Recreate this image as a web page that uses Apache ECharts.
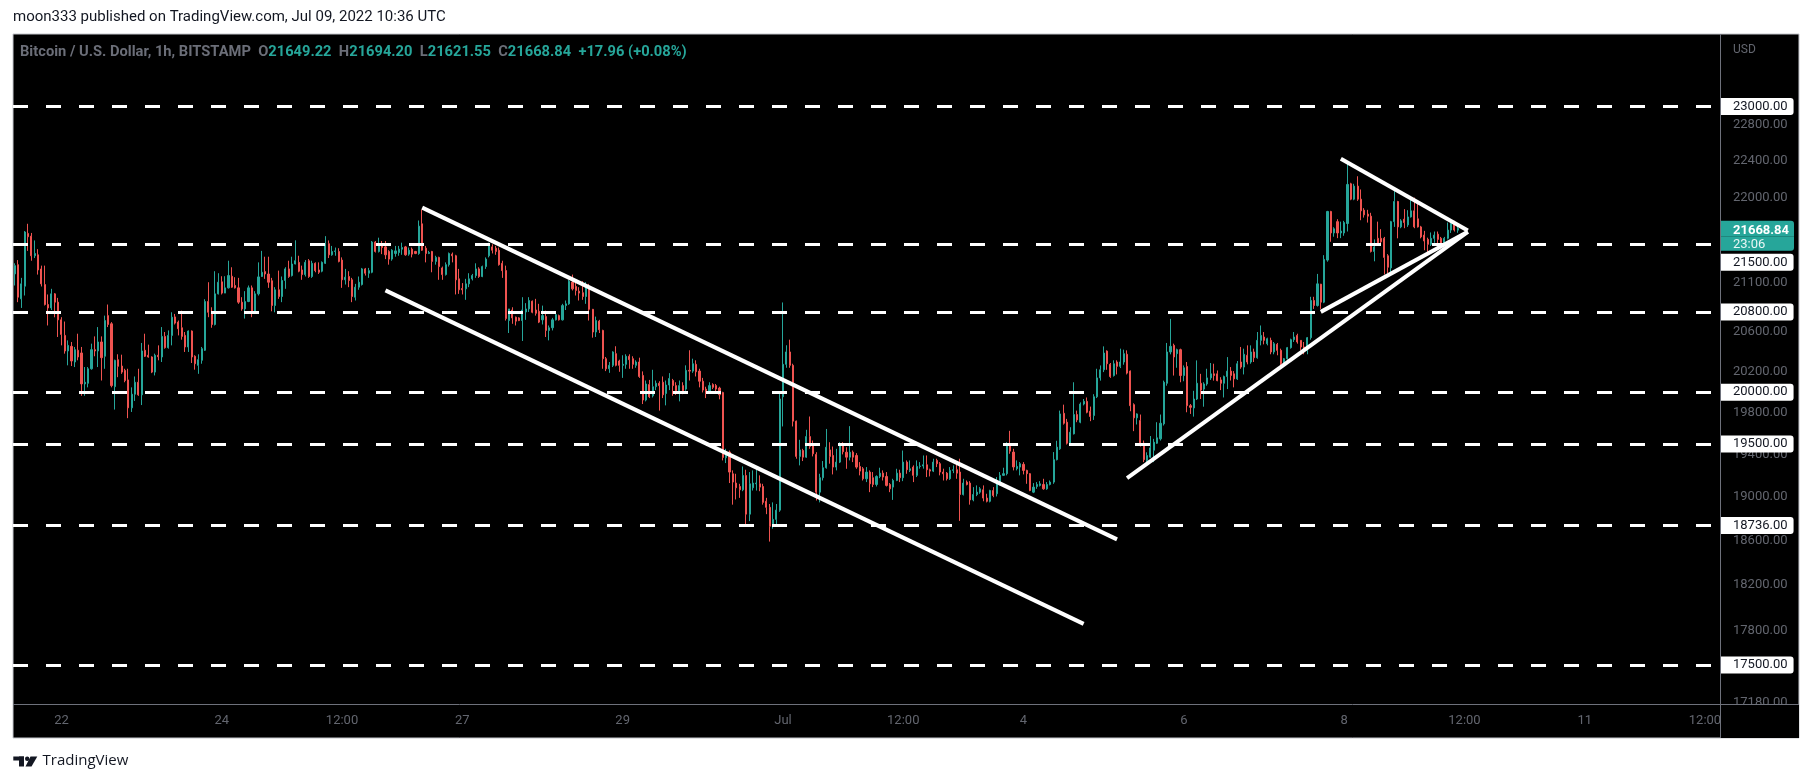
<!DOCTYPE html>
<html>
<head>
<meta charset="utf-8">
<script src="https://cdn.jsdelivr.net/npm/echarts@6/dist/echarts.min.js"></script>
<style>
html,body{margin:0;padding:0;background:#fff;}
#chart{width:1813px;height:783px;}
</style>
</head>
<body>
<div id="chart"></div>
<script>
// ---------- data (BTC/USD, 1h candles, Jun 21 10:00 -> Jul 9 10:00 UTC) ----------
const firstCandleUTC = [2022, 5, 21, 10]; // y, m(0-based), d, h
const slotCount = 511;                     // hourly slots shown on the time axis

const opens = [
21191,21287,20934,21064,21615,21586,21380,21390,21242,21081,
20876,20841,20985,20900,20720,20563,20407,20453,20297,20414,
20387,20081,20087,20230,20420,20407,20497,20354,20763,20680,
20054,20320,20257,20214,20120,19847,19980,20097,19974,20414,
20364,20347,20197,20364,20347,20553,20440,20563,20750,20697,
20640,20563,20447,20607,20354,20264,20314,20414,20907,20804,
20673,20985,21109,20993,21047,21167,21071,21047,20900,20831,
20907,21047,20797,20985,21164,21215,21190,21120,20866,21027,
20958,21123,21243,21174,21294,21311,21232,21184,21328,21164,
21301,21232,21219,21301,21507,21390,21425,21425,21335,21130,
21164,21130,20951,21054,21081,21243,21198,21208,21524,21425,
21500,21473,21425,21345,21404,21414,21449,21473,21397,21449,
21425,21404,21717,21459,21404,21425,21321,21363,21253,21184,
21287,21397,21380,21140,21040,21037,21088,21140,21174,21243,
21164,21267,21380,21473,21459,21438,21301,21226,20713,20820,
20747,20740,20713,20800,20831,20910,20820,20807,20720,20753,
20613,20640,20720,20763,20720,20865,20883,21106,21061,21013,
20997,20958,21061,20827,20597,20707,20613,20330,20230,20264,
20380,20307,20264,20274,20354,20330,20264,20297,20164,19923,
20074,19964,20053,20087,20097,19987,20070,20114,20064,20004,
20064,20030,20214,20207,20274,20207,20107,20030,19997,20074,
20064,20040,19997,19368,19422,19217,19130,19098,19067,19201,
18841,19086,19123,19123,19098,18960,18904,18730,18793,18878,
19955,20274,20397,20264,19718,19381,19437,19374,19570,19494,
19400,19045,19180,19274,19443,19390,19280,19327,19484,19421,
19374,19421,19390,19286,19264,19170,19233,19180,19117,19192,
19223,19192,19117,19092,19154,19223,19180,19327,19249,19280,
19202,19286,19290,19302,19255,19242,19343,19312,19233,19223,
19170,19249,19255,19233,19023,19139,19130,18973,19023,19045,
19067,18990,18960,19060,19030,19139,19202,19218,19494,19422,
19265,19280,19306,19249,19218,19045,19098,19108,19117,19076,
19117,19139,19350,19453,19794,19708,19506,19596,19782,19708,
19884,19910,19814,19772,19955,20140,20220,20406,20274,20163,
20297,20254,20297,20374,20207,19878,19750,19724,19506,19343,
19374,19440,19506,19548,19692,20087,20397,20463,20380,20420,
20163,20253,19868,19846,19933,20087,20030,20080,20140,20180,
20180,20120,20087,20153,20207,20180,20130,20297,20247,20364,
20297,20397,20340,20513,20547,20480,20513,20397,20473,20413,
20280,20330,20440,20520,20563,20513,20447,20413,20540,20917,
20866,21085,20900,21335,21848,21620,21740,21620,21620,21720,
22146,21980,22121,21980,21862,21820,21798,21425,21563,21563,
21563,21380,21253,21740,21955,21684,21766,21705,21790,21855,
21770,21684,21597,21552,21500,21563,21607,21563,21500,21563,
21650,21730,21649.22
];

const closes = [
21277,20951,21088,21630,21580,21380,21404,21232,21088,20876,
20841,20985,20900,20720,20573,20407,20463,20307,20420,20347,
20081,20097,20230,20420,20407,20497,20340,20713,20673,20064,
20314,20254,20197,20114,19847,19980,20097,19974,20407,20354,
20347,20197,20364,20350,20553,20440,20563,20747,20687,20630,
20553,20447,20607,20347,20280,20320,20430,20907,20797,20673,
20985,21105,20993,21047,21174,21054,21047,20900,20831,20907,
21047,20797,20985,21160,21208,21190,21105,20866,21027,20958,
21123,21243,21164,21294,21328,21219,21184,21311,21164,21301,
21225,21208,21311,21507,21390,21425,21431,21321,21130,21157,
21123,20958,21054,21105,21243,21198,21225,21524,21425,21483,
21466,21390,21345,21438,21431,21449,21466,21390,21438,21397,
21404,21692,21438,21404,21414,21321,21363,21267,21184,21287,
21404,21380,21130,21027,21027,21088,21140,21174,21243,21164,
21267,21345,21500,21438,21425,21287,21225,20733,20831,20740,
20707,20713,20820,20831,20917,20797,20787,20697,20763,20613,
20640,20720,20773,20720,20865,20883,21116,21037,21020,20993,
20958,21061,20827,20597,20713,20620,20330,20230,20264,20397,
20264,20264,20274,20354,20320,20274,20297,20154,19923,20080,
19955,20053,20087,20064,19974,20070,20134,20064,19997,20064,
20014,20214,20207,20280,20200,20107,20020,19987,20064,20047,
20030,19974,19371,19422,19233,19139,19086,19067,19201,18841,
19123,19130,19130,19092,18950,18904,18730,18793,18878,19933,
20274,20397,20264,19718,19381,19443,19374,19570,19475,19406,
19045,19180,19274,19468,19381,19280,19327,19484,19425,19374,
19421,19374,19280,19242,19170,19233,19123,19117,19192,19223,
19186,19108,19076,19154,19223,19180,19327,19255,19264,19202,
19286,19290,19302,19255,19242,19327,19312,19233,19217,19170,
19249,19255,19223,19023,19130,19117,18973,19023,19045,19076,
18990,18960,19060,19014,19139,19202,19218,19500,19431,19281,
19286,19312,19249,19218,19060,19092,19117,19123,19076,19117,
19139,19350,19469,19788,19698,19506,19612,19782,19730,19884,
19910,19804,19763,19955,20140,20220,20386,20280,20153,20280,
20254,20297,20380,20187,19868,19750,19788,19500,19350,19390,
19462,19516,19558,19698,20097,20397,20453,20347,20420,20163,
20240,19868,19852,19933,20087,20020,20080,20140,20180,20163,
20113,20087,20153,20207,20164,20130,20280,20247,20374,20297,
20397,20340,20513,20563,20513,20530,20397,20480,20413,20280,
20330,20440,20520,20547,20497,20447,20413,20540,20917,20866,
21088,20900,21342,21848,21620,21664,21620,21640,21730,22139,
21980,22121,21980,21855,21812,21798,21425,21473,21507,21527,
21363,21260,21740,21955,21684,21748,21730,21790,21855,21684,
21684,21578,21535,21500,21563,21597,21552,21507,21563,21650,
21720,21650.88,21668.84
];

const lows = [
21071,20900,20841,20968,21431,21328,21356,21184,21061,20866,
20663,20820,20746,20547,20463,20380,20264,20257,20247,20314,
19964,19964,20047,20221,20354,20247,20114,20230,20647,20047,
19830,20147,20180,20097,19747,19807,19914,19964,19874,20347,
20340,20187,20164,20314,20297,20430,20430,20463,20673,20563,
20520,20397,20397,20287,20221,20180,20280,20407,20747,20640,
20663,20979,20979,20993,21040,21047,21040,20883,20813,20733,
20900,20747,20780,20968,21160,21140,21047,20807,20797,20934,
20900,21037,21150,21164,21290,21208,21130,21164,21150,21150,
21208,21191,21208,21294,21356,21380,21380,21311,21047,21081,
21054,20900,20917,21027,21071,21174,21150,21198,21414,21414,
21397,21345,21287,21328,21370,21380,21390,21380,21380,21363,
21397,21390,21431,21311,21397,21208,21287,21130,21130,21174,
21267,21311,20979,20985,20979,20924,21054,21123,21150,21150,
21157,21243,21363,21404,21390,21277,21150,20713,20587,20680,
20663,20707,20507,20720,20800,20787,20763,20687,20673,20547,
20513,20613,20713,20713,20713,20820,20873,21020,20968,20917,
20924,20883,20713,20540,20547,20587,20230,20207,20190,20247,
20254,20200,20140,20230,20230,20230,20240,20140,19884,19910,
19942,19948,20020,19820,19942,19871,20020,19964,19974,19910,
19980,20014,20114,20190,20154,20047,19997,19942,19987,20030,
19987,19930,19343,19318,19130,18929,18977,18992,19054,18746,
18777,19060,19060,19054,18929,18841,18590,18708,18730,18863,
19667,20240,20240,19667,19359,19296,19337,19368,19453,19381,
18967,18950,19154,19265,19312,19211,19249,19318,19400,19264,
19343,19327,19264,19202,19154,19139,19045,19092,19098,19176,
19154,19098,19045,18973,19148,19139,19148,19217,19233,19139,
19186,19265,19265,19186,19192,19233,19280,19202,19154,19154,
19160,19223,19170,18779,19014,19108,18929,18960,19008,19030,
18960,18950,18950,18998,19005,19108,19196,19202,19406,19249,
19249,19202,19211,19123,19054,19036,19076,19098,19067,19067,
19108,19123,19343,19443,19685,19494,19484,19590,19708,19698,
19871,19794,19718,19730,19942,20113,20197,20220,20140,20153,
20174,20237,20270,20174,19814,19622,19686,19475,19327,19300,
19368,19327,19500,19532,19676,20063,20373,20163,20240,20097,
20107,19804,19788,19762,19923,19933,19858,20063,20120,20113,
20107,20020,19948,20030,20114,20047,20120,20230,20174,20274,
20280,20297,20330,20463,20473,20463,20374,20374,20364,20264,
20270,20320,20430,20497,20480,20413,20374,20374,20520,20831,
20855,20831,20890,21318,21527,21580,21565,21565,21590,21635,
21969,21969,21962,21755,21783,21730,21414,21322,21493,21500,
21185,21198,21208,21684,21563,21670,21670,21684,21783,21670,
21677,21563,21438,21414,21483,21517,21493,21493,21483,21552,
21620,21635,21621.55
];

const highs = [
21301,21335,21150,21640,21717,21620,21541,21449,21277,21277,
20979,21037,20993,20944,20747,20703,20513,20497,20447,20580,
20447,20247,20247,20480,20553,20647,20553,20763,20876,20697,
20320,20374,20370,20230,20230,20047,20154,20230,20487,20580,
20470,20354,20380,20463,20647,20597,20613,20797,20780,20713,
20813,20597,20613,20613,20364,20374,20447,20930,21105,20848,
21219,21198,21167,21167,21328,21260,21157,21150,20951,21013,
21071,21071,21013,21311,21431,21370,21370,21150,21054,21225,
21164,21260,21328,21370,21542,21380,21277,21335,21345,21328,
21311,21311,21321,21586,21541,21483,21466,21459,21363,21243,
21219,21150,21088,21164,21253,21253,21253,21535,21535,21570,
21535,21535,21438,21449,21483,21483,21517,21483,21466,21466,
21431,21752,21868,21483,21431,21431,21380,21370,21267,21311,
21414,21414,21390,21243,21096,21140,21198,21191,21301,21260,
21277,21363,21517,21500,21483,21466,21328,21277,20831,20848,
20753,20747,20951,20890,20951,20917,20934,20883,20865,20813,
20663,20740,20787,20773,20883,20917,21130,21184,21106,21054,
21116,21106,21088,20831,20753,20720,20620,20347,20297,20404,
20454,20320,20364,20374,20374,20354,20314,20340,20204,20114,
20120,20220,20114,20107,20154,20114,20187,20130,20097,20114,
20097,20264,20414,20330,20314,20230,20140,20053,20097,20087,
20080,20053,20004,19453,19437,19249,19217,19123,19286,19255,
19233,19249,19264,19202,19123,18992,18935,18950,18935,19997,
20897,20464,20520,20280,19724,19539,19453,19635,19763,19532,
19421,19217,19337,19643,19516,19475,19453,19516,19516,19468,
19670,19437,19412,19327,19280,19280,19249,19233,19202,19274,
19249,19233,19130,19170,19264,19255,19437,19343,19343,19296,
19343,19327,19390,19390,19265,19359,19359,19327,19265,19233,
19280,19296,19312,19359,19170,19154,19148,19092,19108,19092,
19108,19030,19067,19092,19186,19233,19274,19516,19625,19453,
19343,19327,19327,19255,19223,19130,19139,19148,19170,19139,
19154,19422,19530,19820,19878,19740,19660,20097,19820,19900,
19933,19948,19859,19980,20230,20263,20453,20413,20287,20314,
20314,20430,20420,20413,20213,19891,19794,19782,19532,19420,
19575,19548,19708,19782,20113,20487,20730,20480,20430,20430,
20263,20297,19884,20013,20313,20180,20097,20230,20287,20280,
20213,20147,20163,20346,20247,20207,20307,20447,20430,20463,
20463,20430,20597,20663,20597,20540,20540,20497,20487,20430,
20337,20447,20530,20597,20580,20513,20497,20547,20955,20955,
21191,21088,21386,21855,21855,21680,21766,21740,21748,22395,
22157,22146,22228,22085,21884,21866,21834,21552,21740,21660,
21578,21397,21748,22110,21962,21766,21873,21862,22015,21997,
21940,21695,21642,21570,21625,21635,21635,21578,21578,21730,
21730,21748,21694.20
];

// horizontal support / resistance levels (dashed)
const levelValues = [23000, 21500, 20800, 20000, 19500, 18736, 17500];
// price-scale tick labels
const yTickValues = [22800, 22400, 22000, 21100, 20600, 20200, 19800, 19400, 19000, 18600, 18200, 17800, 17180];
const yMin = 17170, yMax = 23830;
// time-scale tick labels
const xTickTimes  = ['2022-06-22 00:00','2022-06-24 00:00','2022-06-25 12:00','2022-06-27 00:00','2022-06-29 00:00','2022-07-01 00:00','2022-07-02 12:00','2022-07-04 00:00','2022-07-06 00:00','2022-07-08 00:00','2022-07-09 12:00','2022-07-11 00:00','2022-07-12 12:00'];
const xTickLabels = ['22','24','12:00','27','29','Jul','12:00','4','6','8','12:00','11','12:00'];
// drawn trend lines: [slot index, price] endpoints
const channelTop    = [[122, 21889], [330, 18610]];
const channelBottom = [[111, 21021], [320, 17856]];
const riseLong      = [[333, 19176], [435, 21632]];
const riseShort     = [[391, 20801], [435, 21632]];
const triangleTop   = [[397, 22419], [435, 21645]];
const countdown = '23:06';
const symbolTitle = 'Bitcoin / U.S. Dollar, 1h, BITSTAMP';
const publishLine = 'moon333 published on TradingView.com, Jul 09, 2022 10:36 UTC';

// ---------- build ----------
const FONT = 'Roboto, "Noto Sans", "DejaVu Sans", sans-serif';
const GRAY = '#63666f';
const UP = '#26a69a', DOWN = '#ef5350';
const CLEAR = 'rgba(0,0,0,0)';
const pad2 = n => String(n).padStart(2, '0');
const t0 = Date.UTC(firstCandleUTC[0], firstCandleUTC[1], firstCandleUTC[2], firstCandleUTC[3]);
const categories = [];
for (let i = 0; i < slotCount; i++) {
  const d = new Date(t0 + i * 3600000);
  categories.push(d.getUTCFullYear() + '-' + pad2(d.getUTCMonth() + 1) + '-' + pad2(d.getUTCDate()) + ' ' + pad2(d.getUTCHours()) + ':00');
}
const candleData = opens.map((o, i) => [o, closes[i], lows[i], highs[i]]);
const last = opens.length - 1;
const lastPrice = closes[last];
const chg = closes[last] - closes[last - 1];
const pct = chg / closes[last - 1] * 100;
const sgn = chg >= 0 ? '+' : '';
const headerText =
  '{g|' + symbolTitle + '}  ' +
  '{g|O}{v|' + opens[last].toFixed(2) + '}  ' +
  '{g|H}{v|' + highs[last].toFixed(2) + '}  ' +
  '{g|L}{v|' + lows[last].toFixed(2) + '}  ' +
  '{g|C}{v|' + closes[last].toFixed(2) + '}  ' +
  '{v|' + sgn + chg.toFixed(2) + ' (' + sgn + pct.toFixed(2) + '%)}';

const tickItems = yTickValues.map(v => ({
  yAxis: v,
  lineStyle: { color: CLEAR, width: 1, opacity: 1 },
  label: { show: true, position: 'end', distance: 13, formatter: v.toFixed(2), color: GRAY, fontSize: 13, fontFamily: FONT }
}));
const boxRich = {
  box: { backgroundColor: '#ffffff', color: '#131722', fontSize: 13, fontFamily: FONT, lineHeight: 14, padding: [2, 6, 2, 12], borderRadius: [0, 3, 3, 0] },
  sp: { lineHeight: 36, fontSize: 1 }
};
const nudged = { 21500: true }; // label pushed below the live-price tag (as on the original)
const levelItems = levelValues.map(v => ({
  yAxis: v,
  lineStyle: { color: '#ffffff', width: 3, type: [15, 18], opacity: 1 },
  label: { show: true, position: 'end', distance: 1,
    formatter: (nudged[v] ? '{sp| }\n' : '') + '{box|' + v.toFixed(2) + '}', rich: boxRich }
}));
const priceItem = {
  yAxis: lastPrice,
  lineStyle: { color: CLEAR, width: 1, opacity: 1 },
  label: { show: true, position: 'end', distance: 1,
    formatter: '{sp| }\n{a|' + lastPrice.toFixed(2) + '}\n{b|' + countdown + '}',
    rich: {
      sp: { lineHeight: 16, fontSize: 1 },
      a: { backgroundColor: UP, color: '#fff', fontWeight: 'bold', fontSize: 13, fontFamily: FONT, lineHeight: 15, padding: [3, 6, 0, 12], width: 55, borderRadius: [0, 3, 0, 0] },
      b: { backgroundColor: UP, color: '#e8f6f4', fontSize: 13, fontFamily: FONT, lineHeight: 15, padding: [1, 6, 0, 12], width: 55, borderRadius: [0, 0, 3, 0] }
    } }
};

const trend = (name, data) => ({
  name, type: 'line', data, symbol: 'none', showSymbol: false, silent: true, z: 5,
  lineStyle: { color: '#ffffff', width: 4 }, animation: false
});

const chart = echarts.init(document.getElementById('chart'), null, { renderer: 'canvas', width: 1813, height: 783 });
chart.setOption({
  animation: false,
  backgroundColor: '#ffffff',
  textStyle: { fontFamily: FONT },
  title: [
    { text: publishLine, left: 13, top: 10, padding: 0,
      textStyle: { fontSize: 15, fontWeight: 'normal', color: '#131722', fontFamily: FONT } },
    { text: headerText, left: 20, top: 45, padding: 0,
      textStyle: { fontSize: 14.7, fontFamily: FONT,
        rich: { g: { color: '#6b6e78', fontSize: 14.7, fontFamily: FONT }, v: { color: UP, fontSize: 14.7, fontFamily: FONT } } } }
  ],
  grid: { left: 13, right: 93, top: 34, bottom: 79, containLabel: false, outerBoundsMode: 'none' },
  xAxis: {
    type: 'category', data: categories, boundaryGap: true,
    axisLine: { show: false }, axisTick: { show: false }, splitLine: { show: false },
    axisLabel: {
      interval: (idx, val) => xTickTimes.indexOf(val) >= 0,
      formatter: val => xTickLabels[xTickTimes.indexOf(val)],
      color: GRAY, fontSize: 13, fontFamily: FONT, margin: 10
    }
  },
  yAxis: {
    type: 'log', logBase: 10, position: 'right', min: yMin, max: yMax, scale: true,
    axisLine: { show: false }, axisTick: { show: false }, splitLine: { show: false },
    axisLabel: { show: false }
  },
  graphic: [
    { type: 'rect', z: -10, silent: true, shape: { x: 13, y: 34, width: 1786, height: 704 },
      style: { fill: '#000000', stroke: '#c4c6cc', lineWidth: 1 } },
    { type: 'line', z: 50, silent: true, shape: { x1: 1720.5, y1: 34, x2: 1720.5, y2: 738 }, style: { stroke: '#6e717b', lineWidth: 1 } },
    { type: 'line', z: 50, silent: true, shape: { x1: 13, y1: 704.5, x2: 1799, y2: 704.5 }, style: { stroke: '#6e717b', lineWidth: 1 } },
    { type: 'rect', z: 40, silent: true, shape: { x: 1721, y: 705, width: 78, height: 33 }, style: { fill: '#000000' } },
    { type: 'text', z: 50, silent: true, x: 1733, y: 44, style: { text: 'USD', fill: GRAY, font: '12px ' + FONT } },
    // TradingView logo mark
    { type: 'rect', silent: true, shape: { x: 13.3, y: 756.5, width: 10.7, height: 4 }, style: { fill: '#131722' } },
    { type: 'rect', silent: true, shape: { x: 19, y: 756.5, width: 5, height: 10 }, style: { fill: '#131722' } },
    { type: 'circle', silent: true, shape: { cx: 27.2, cy: 758.7, r: 2.2 }, style: { fill: '#131722' } },
    { type: 'polygon', silent: true, shape: { points: [[30.5, 756.5], [37.3, 756.5], [31.5, 766.5], [25.5, 766.5]] }, style: { fill: '#131722' } },
    { type: 'text', silent: true, x: 42.5, y: 753.5, style: { text: 'TradingView', fill: '#131722', font: '15px "Open Sans", Roboto, sans-serif' } }
  ],
  series: [
    {
      name: 'BTCUSD', type: 'candlestick', data: candleData, barWidth: 1.6, z: 2,
      itemStyle: { color: UP, color0: DOWN, borderColor: UP, borderColor0: DOWN, borderWidth: 1 },
      markLine: {
        silent: true, symbol: ['none', 'none'], animation: false, precision: 2,
        data: tickItems.concat(levelItems, [priceItem])
      }
    },
    trend('channelTop', channelTop),
    trend('channelBottom', channelBottom),
    trend('riseLong', riseLong),
    trend('riseShort', riseShort),
    trend('triangleTop', triangleTop)
  ]
});
</script>
</body>
</html>
